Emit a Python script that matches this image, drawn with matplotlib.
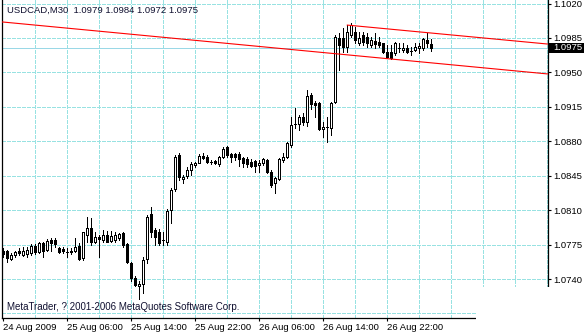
import numpy as np
import matplotlib
matplotlib.use('Agg')
import matplotlib.pyplot as plt
import matplotlib.transforms as mtransforms
from matplotlib.patches import Rectangle

plt.rcParams['font.family'] = ['Liberation Sans', 'DejaVu Sans']

# USDCAD M30 candles (open, high, low, close)
opens = [1.0769, 1.0768, 1.0760, 1.0764, 1.0768, 1.0764, 1.0765, 1.0766, 1.0774, 1.0767,
         1.0777, 1.0770, 1.0780, 1.0780, 1.0772, 1.0771, 1.0767, 1.0769, 1.0768, 1.0774,
         1.0761, 1.0785, 1.0792, 1.0778, 1.0783, 1.0780, 1.0785, 1.0779, 1.0780, 1.0782,
         1.0787, 1.0776, 1.0756, 1.0741, 1.0733, 1.0735, 1.0760, 1.0806, 1.0790, 1.0788,
         1.0780, 1.0778, 1.0810, 1.0832, 1.0866, 1.0842, 1.0845, 1.0851, 1.0856, 1.0858,
         1.0865, 1.0864, 1.0859, 1.0860, 1.0857, 1.0864, 1.0874, 1.0867, 1.0867, 1.0867,
         1.0863, 1.0862, 1.0859, 1.0860, 1.0856, 1.0858, 1.0861, 1.0849, 1.0838, 1.0842,
         1.0861, 1.0864, 1.0876, 1.0898, 1.0898, 1.0905, 1.0900, 1.0927, 1.0919, 1.0919,
         1.0892, 1.0895, 1.0893, 1.0920, 1.0985, 1.0985, 1.0976, 1.0988, 1.0991, 1.0980,
         1.0988, 1.0986, 1.0978, 1.0982, 1.0981, 1.0980, 1.0971, 1.0971, 1.0970, 1.0975,
         1.0973, 1.0975, 1.0972, 1.0973, 1.0975, 1.0975, 1.0983, 1.0979]
highs = [1.0772, 1.0770, 1.0766, 1.0769, 1.0772, 1.0773, 1.0773, 1.0776, 1.0776, 1.0778,
         1.0778, 1.0781, 1.0782, 1.0782, 1.0773, 1.0773, 1.0772, 1.0772, 1.0782, 1.0777,
         1.0788, 1.0803, 1.0802, 1.0788, 1.0785, 1.0790, 1.0789, 1.0789, 1.0788, 1.0787,
         1.0788, 1.0777, 1.0757, 1.0743, 1.0738, 1.0762, 1.0805, 1.0813, 1.0792, 1.0791,
         1.0788, 1.0811, 1.0833, 1.0866, 1.0868, 1.0846, 1.0854, 1.0859, 1.0859, 1.0867,
         1.0868, 1.0866, 1.0861, 1.0861, 1.0865, 1.0874, 1.0875, 1.0868, 1.0868, 1.0869,
         1.0864, 1.0864, 1.0862, 1.0861, 1.0861, 1.0863, 1.0862, 1.0851, 1.0844, 1.0863,
         1.0868, 1.0879, 1.0905, 1.0914, 1.0907, 1.0909, 1.0932, 1.0929, 1.0921, 1.0920,
         1.0900, 1.0905, 1.0920, 1.0988, 1.0990, 1.0995, 1.0998, 1.1000, 1.0996, 1.0991,
         1.0991, 1.0990, 1.0986, 1.0990, 1.0986, 1.0980, 1.0978, 1.0978, 1.0981, 1.0980,
         1.0980, 1.0978, 1.0976, 1.0980, 1.0980, 1.0985, 1.0990, 1.0984]
lows = [1.0762, 1.0757, 1.0759, 1.0762, 1.0764, 1.0763, 1.0762, 1.0764, 1.0765, 1.0766,
        1.0762, 1.0768, 1.0769, 1.0773, 1.0766, 1.0766, 1.0762, 1.0765, 1.0767, 1.0759,
        1.0759, 1.0778, 1.0775, 1.0777, 1.0762, 1.0778, 1.0778, 1.0778, 1.0778, 1.0780,
        1.0773, 1.0756, 1.0738, 1.0733, 1.0720, 1.0726, 1.0756, 1.0783, 1.0775, 1.0775,
        1.0775, 1.0775, 1.0797, 1.0829, 1.0841, 1.0838, 1.0843, 1.0846, 1.0854, 1.0858,
        1.0862, 1.0858, 1.0857, 1.0857, 1.0855, 1.0863, 1.0864, 1.0859, 1.0861, 1.0855,
        1.0854, 1.0854, 1.0854, 1.0849, 1.0849, 1.0856, 1.0848, 1.0834, 1.0827, 1.0841,
        1.0859, 1.0863, 1.0874, 1.0894, 1.0891, 1.0897, 1.0896, 1.0913, 1.0905, 1.0891,
        1.0884, 1.0879, 1.0886, 1.0919, 1.0952, 1.0971, 1.0971, 1.0986, 1.0980, 1.0978,
        1.0978, 1.0976, 1.0976, 1.0975, 1.0976, 1.0970, 1.0965, 1.0964, 1.0968, 1.0971,
        1.0971, 1.0970, 1.0968, 1.0972, 1.0970, 1.0973, 1.0976, 1.0972]
closes = [1.0765, 1.0761, 1.0764, 1.0767, 1.0766, 1.0769, 1.0770, 1.0774, 1.0767, 1.0777,
          1.0769, 1.0779, 1.0777, 1.0776, 1.0767, 1.0768, 1.0767, 1.0767, 1.0773, 1.0760,
          1.0788, 1.0792, 1.0778, 1.0783, 1.0781, 1.0785, 1.0778, 1.0784, 1.0785, 1.0786,
          1.0775, 1.0757, 1.0741, 1.0734, 1.0735, 1.0759, 1.0803, 1.0788, 1.0783, 1.0777,
          1.0780, 1.0809, 1.0831, 1.0864, 1.0844, 1.0844, 1.0851, 1.0857, 1.0858, 1.0865,
          1.0863, 1.0859, 1.0859, 1.0858, 1.0864, 1.0872, 1.0866, 1.0864, 1.0864, 1.0862,
          1.0858, 1.0857, 1.0855, 1.0855, 1.0858, 1.0862, 1.0849, 1.0836, 1.0843, 1.0862,
          1.0864, 1.0878, 1.0897, 1.0898, 1.0905, 1.0900, 1.0926, 1.0918, 1.0917, 1.0892,
          1.0895, 1.0895, 1.0919, 1.0986, 1.0978, 1.0976, 1.0991, 1.0998, 1.0983, 1.0985,
          1.0981, 1.0980, 1.0983, 1.0979, 1.0978, 1.0971, 1.0966, 1.0965, 1.0980, 1.0975,
          1.0975, 1.0971, 1.0972, 1.0976, 1.0977, 1.0984, 1.0980, 1.0975]

time_labels = ['24 Aug 2009', '25 Aug 06:00', '25 Aug 14:00', '25 Aug 22:00',
               '26 Aug 06:00', '26 Aug 14:00', '26 Aug 22:00']
label_bars = [0, 16, 32, 48, 64, 80, 96]
price_ticks = [1.0705, 1.0740, 1.0775, 1.0810, 1.0845, 1.0880, 1.0915,
               1.0950, 1.0985, 1.1020]

# trend channel (bar index, price)
lower_line = ([-0.8, 136.2], [1.10015, 1.09484])
upper_line = ([86, 136.2], [1.09981, 1.09788])
bid = 1.0975

grid_col = '#98e2e2'

fig = plt.figure(figsize=(5.84, 3.32), dpi=100)
ax = fig.add_axes([2 / 584, 14 / 332, 546 / 584, 318 / 332])

x = np.arange(len(opens))
o = np.array(opens)
c = np.array(closes)

# grid
for gx in range(8, 137, 8):
    ax.axvline(gx, color=grid_col, lw=0.72, ls=(0, (3, 2)), zorder=0,
               antialiased=False)
for py in price_ticks:
    ax.axhline(py, color=grid_col, lw=0.72, ls=(0, (3, 2)), zorder=0,
               antialiased=False)

ax.axhline(bid, color='#9ad8e6', lw=0.72, zorder=1, antialiased=False)

ax.vlines(x, lows, highs, color='black', lw=0.72, zorder=2, antialiased=False)
up = c >= o
ax.bar(x[up], (c - o)[up], bottom=o[up], width=0.5, color='white',
       edgecolor='black', lw=0.72, zorder=3, antialiased=False)
ax.bar(x[~up], (o - c)[~up], bottom=c[~up], width=0.5, color='black',
       edgecolor='black', lw=0.72, zorder=3, antialiased=False)

ax.plot(*lower_line, color='red', lw=0.8, zorder=4)
ax.plot(*upper_line, color='red', lw=0.8, zorder=4)

ax.set_xlim(-0.325, 136.175)
ax.set_ylim(1.07004, 1.10236)

ax.spines['top'].set_visible(False)
for s in ['left', 'right', 'bottom']:
    ax.spines[s].set_linewidth(0.9)

ax.yaxis.tick_right()
ax.set_yticks(price_ticks)
ax.set_yticklabels([f'{p:.4f}' for p in price_ticks])
ax.tick_params(axis='y', direction='out', length=2.5, width=0.8, pad=1.5,
               labelsize=6.8, colors='black')
ax.set_xticks(label_bars)
ax.set_xticklabels(time_labels, ha='left')
ax.tick_params(axis='x', direction='out', length=2, width=0.8, pad=1.5,
               labelsize=6.8)

ax.text(0.009, 0.968, 'USDCAD,M30  1.0979 1.0984 1.0972 1.0975',
        transform=ax.transAxes, fontsize=6.8, color='#101030', va='center')
ax.text(0.009, 0.035, 'MetaTrader, ? 2001-2006 MetaQuotes Software Corp.',
        transform=ax.transAxes, fontsize=7.0, color='#101030', va='center')

# current price box on the right scale
trans = mtransforms.blended_transform_factory(ax.transAxes, ax.transData)
ax.add_patch(Rectangle((1.002, bid - 0.00052), 0.07, 0.00104, transform=trans,
                       facecolor='black', edgecolor='none', clip_on=False, zorder=5))
ax.text(1.01, bid, f'{bid:.4f}', transform=trans, color='white', fontsize=6.8,
        va='center', ha='left', clip_on=False, zorder=6)

# bottom-right corner is blank in the screenshot
fig.add_artist(Rectangle((476 / 584, 0), 108 / 584, 45 / 332,
                         transform=fig.transFigure, facecolor='white',
                         edgecolor='none', zorder=10))

fig.savefig('out.png', dpi=100)
